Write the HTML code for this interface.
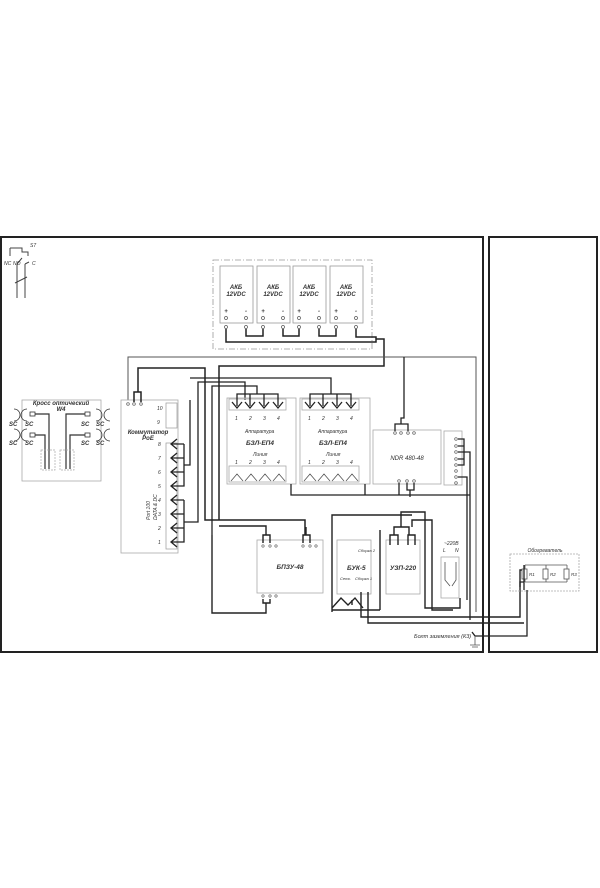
<!DOCTYPE html>
<html><head><meta charset="utf-8"><style>
html,body{margin:0;padding:0;background:#fff;width:600px;height:888px;overflow:hidden}
svg{display:block}
text{font-family:"Liberation Sans",sans-serif;font-style:italic;fill:#333}
</style></head><body>
<svg width="600" height="888" viewBox="0 0 600 888" xmlns="http://www.w3.org/2000/svg">
<g fill="none" stroke="#222" stroke-width="2">
<rect x="1" y="237" width="482" height="415"/>
<rect x="489" y="237" width="108" height="415"/>
</g>
<!-- S7 -->
<g stroke="#444" stroke-width="1" fill="none">
<path d="M10 248 L10 256 M10 248 L22 248 L22 252 L28 252 L28 256"/>
<path d="M17 264 L17 298 M25 264 L25 298 M17 264 L22 258 M25 264 L29 262"/>
<path d="M15 283 L27 277"/>
</g>
<text x="30" y="247" font-size="5">S7</text>
<text x="4" y="265" font-size="5">NC</text><text x="13" y="265" font-size="5">NO</text><text x="32" y="265" font-size="5">C</text>
<!-- battery box -->
<rect x="213" y="260" width="159" height="89" fill="none" stroke="#999" stroke-width="0.8" stroke-dasharray="6,2,1,2"/>
<g fill="none" stroke="#999" stroke-width="0.8">
<rect x="220" y="266" width="33" height="57"/><rect x="257" y="266" width="33" height="57"/>
<rect x="293" y="266" width="33" height="57"/><rect x="330" y="266" width="33" height="57"/>
</g>
<g font-size="6" text-anchor="middle" font-weight="bold">
<text x="236" y="289">АКБ</text><text x="236" y="296">12VDC</text>
<text x="273" y="289">АКБ</text><text x="273" y="296">12VDC</text>
<text x="309" y="289">АКБ</text><text x="309" y="296">12VDC</text>
<text x="346" y="289">АКБ</text><text x="346" y="296">12VDC</text>
</g>
<g font-size="6" text-anchor="middle" font-weight="bold"><text x="226" y="313">+</text><text x="246" y="313">-</text><text x="263" y="313">+</text><text x="283" y="313">-</text><text x="299" y="313">+</text><text x="319" y="313">-</text><text x="336" y="313">+</text><text x="356" y="313">-</text></g>
<g fill="none" stroke="#555" stroke-width="0.7">
<circle cx="226" cy="318" r="1.5"/><circle cx="246" cy="318" r="1.5"/><circle cx="263" cy="318" r="1.5"/><circle cx="283" cy="318" r="1.5"/>
<circle cx="299" cy="318" r="1.5"/><circle cx="319" cy="318" r="1.5"/><circle cx="336" cy="318" r="1.5"/><circle cx="356" cy="318" r="1.5"/>
<circle cx="226" cy="327" r="1.5"/><circle cx="246" cy="327" r="1.5"/><circle cx="263" cy="327" r="1.5"/><circle cx="283" cy="327" r="1.5"/>
<circle cx="299" cy="327" r="1.5"/><circle cx="319" cy="327" r="1.5"/><circle cx="336" cy="327" r="1.5"/><circle cx="356" cy="327" r="1.5"/>
</g>
<g fill="none" stroke="#222" stroke-width="1.5">
<path d="M226 329 V342 H376 V337 H356 V329"/>
<path d="M246 329 V336 H263 V329 M283 329 V336 H299 V329 M319 329 V336 H336 V329"/>
<path d="M376 339 H384 V366 H219 V520"/>
</g>
<!-- thin main frame line -->
<path d="M128 400 V357 H476 V612" fill="none" stroke="#555" stroke-width="1"/>
<!-- optical cross -->
<rect x="22" y="400" width="79" height="81" fill="none" stroke="#aaa" stroke-width="0.8"/>
<text x="61" y="405" font-size="6" text-anchor="middle" font-weight="bold">Кросс оптический</text>
<text x="61" y="411" font-size="6" text-anchor="middle" font-weight="bold">W4</text>
<g font-size="6" font-weight="bold"><text x="9" y="426">SC</text><text x="25" y="426">SC</text><text x="81" y="426">SC</text><text x="96" y="426">SC</text>
<text x="9" y="445">SC</text><text x="25" y="445">SC</text><text x="81" y="445">SC</text><text x="96" y="445">SC</text></g>
<g fill="none" stroke="#333" stroke-width="0.8">
<path d="M14 409 A6 6 0 0 1 14 421 M14 429 A6 6 0 0 1 14 441 M110 409 A6 6 0 0 0 110 421 M110 429 A6 6 0 0 0 110 441"/>
<path d="M27 409 A6 6 0 0 0 27 421 M27 429 A6 6 0 0 0 27 441 M96 409 A6 6 0 0 1 96 421 M96 429 A6 6 0 0 1 96 441"/>
<rect x="30" y="412" width="5" height="4"/><rect x="30" y="433" width="5" height="4"/><rect x="85" y="412" width="5" height="4"/><rect x="85" y="433" width="5" height="4"/>
</g>
<path d="M35 414 H49 V469 M35 435 H45 V469 M85 414 H66 V469 M85 435 H70 V469" fill="none" stroke="#333" stroke-width="1.2"/>
<rect x="41" y="450" width="14" height="20" fill="none" stroke="#aaa" stroke-dasharray="2,1" stroke-width="0.7"/>
<rect x="60" y="450" width="14" height="20" fill="none" stroke="#aaa" stroke-dasharray="2,1" stroke-width="0.7"/>
<!-- switch -->
<rect x="121" y="400" width="57" height="153" fill="none" stroke="#aaa" stroke-width="0.8"/>
<text x="148" y="434" font-size="6" text-anchor="middle" font-weight="bold">Коммутатор</text>
<text x="148" y="440" font-size="6" text-anchor="middle" font-weight="bold">PoE</text>
<text x="150" y="520" font-size="5" transform="rotate(-90 150 520)" fill="#888">Port 100</text>
<text x="157" y="520" font-size="5" transform="rotate(-90 157 520)" fill="#888">DATA &amp; DC</text>
<g fill="none" stroke="#999" stroke-width="0.7"><rect x="166" y="403" width="11" height="25"/><rect x="166" y="443" width="11" height="106"/></g>
<g font-size="5" fill="#888"><text x="157" y="410">10</text><text x="157" y="424">9</text>
<text x="158" y="446">8</text><text x="158" y="460">7</text><text x="158" y="474">6</text><text x="158" y="488">5</text>
<text x="158" y="502">4</text><text x="158" y="516">3</text><text x="158" y="530">2</text><text x="158" y="544">1</text></g>
<g fill="none" stroke="#222" stroke-width="1.3">
<path d="M177 439 L171 444 L177 449 M177 453 L171 458 L177 463 M177 467 L171 472 L177 477 M177 481 L171 486 L177 491 M177 495 L171 500 L177 505 M177 509 L171 514 L177 519 M177 523 L171 528 L177 533 M177 537 L171 542 L177 547"/>
<path d="M172 444 H184 M172 458 H184 M172 472 H184 M172 486 H184 V444 M184 465 H190 V400"/>
<path d="M172 500 H184 M172 514 H184 M172 528 H184 M172 542 H184 V500 M184 522 H198 V382 H245 V400"/>
</g>
<g fill="none" stroke="#555" stroke-width="0.7"><circle cx="128" cy="404" r="1.3"/><circle cx="134" cy="404" r="1.3"/><circle cx="141" cy="404" r="1.3"/></g>
<path d="M134 402 V392 H141 V402 M138 392 V368 H205 V520 H305 V535" fill="none" stroke="#222" stroke-width="1.5"/>
<!-- БЗЛ-ЕП4 x2 -->
<g fill="none" stroke="#aaa" stroke-width="0.8"><rect x="227" y="398" width="69" height="86"/><rect x="300" y="398" width="70" height="86"/>
<rect x="229" y="399" width="57" height="11"/><rect x="302" y="399" width="57" height="11"/>
<rect x="229" y="466" width="57" height="16"/><rect x="302" y="466" width="57" height="16"/></g>
<g fill="none" stroke="#222" stroke-width="1.3">
<path d="M232 402 L237 408 L242 402 M245 402 L250 408 L255 402 M259 402 L264 408 L269 402 M273 402 L278 408 L283 402"/>
<path d="M305 402 L310 408 L315 402 M318 402 L323 408 L328 402 M332 402 L337 408 L342 402 M346 402 L351 408 L356 402"/>
<path d="M237 406 V394 H278 V406 M250 394 V406 M264 394 V406 M257 394 V386 H212 V535"/>
<path d="M310 406 V394 H351 V406 M323 394 V406 M337 394 V406 M331 394 V378 H190"/>
</g>
<g fill="none" stroke="#555" stroke-width="0.8">
<path d="M231 481 L237 474 L243 481 M245 481 L251 474 L257 481 M259 481 L265 474 L271 481 M273 481 L279 474 L285 481"/>
<path d="M304 481 L310 474 L316 481 M318 481 L324 474 L330 481 M332 481 L338 474 L344 481 M346 481 L352 474 L358 481"/>
</g>
<g font-size="5" fill="#999"><text x="235" y="420">1</text><text x="249" y="420">2</text><text x="263" y="420">3</text><text x="277" y="420">4</text>
<text x="308" y="420">1</text><text x="322" y="420">2</text><text x="336" y="420">3</text><text x="350" y="420">4</text>
<text x="235" y="464">1</text><text x="249" y="464">2</text><text x="263" y="464">3</text><text x="277" y="464">4</text>
<text x="308" y="464">1</text><text x="322" y="464">2</text><text x="336" y="464">3</text><text x="350" y="464">4</text>
<text x="245" y="433">Аппаратура</text><text x="318" y="433">Аппаратура</text>
<text x="253" y="456">Линия</text><text x="326" y="456">Линия</text></g>
<text x="260" y="445" font-size="6.5" font-weight="bold" text-anchor="middle">БЗЛ-ЕП4</text>
<text x="333" y="445" font-size="6.5" font-weight="bold" text-anchor="middle">БЗЛ-ЕП4</text>
<path d="M291 484 V495 H470 M365 484 V495" fill="none" stroke="#222" stroke-width="1.3"/>
<!-- NDR -->
<rect x="373" y="430" width="68" height="54" fill="none" stroke="#aaa" stroke-width="0.8"/>
<text x="407" y="460" font-size="6" text-anchor="middle">NDR 480-48</text>
<rect x="444" y="431" width="18" height="54" fill="none" stroke="#aaa" stroke-width="0.8"/>
<g fill="none" stroke="#555" stroke-width="0.7">
<circle cx="395" cy="433" r="1.3"/><circle cx="401" cy="433" r="1.3"/><circle cx="408" cy="433" r="1.3"/><circle cx="414" cy="433" r="1.3"/>
<circle cx="399" cy="481" r="1.3"/><circle cx="407" cy="481" r="1.3"/><circle cx="414" cy="481" r="1.3"/>
<circle cx="456" cy="439" r="1.3"/><circle cx="456" cy="446" r="1.3"/><circle cx="456" cy="452" r="1.3"/><circle cx="456" cy="459" r="1.3"/><circle cx="456" cy="465" r="1.3"/><circle cx="456" cy="471" r="1.3"/><circle cx="456" cy="477" r="1.3"/><circle cx="456" cy="483" r="1.3"/>
</g>
<g fill="none" stroke="#222" stroke-width="1.3">
<path d="M395 431 V424 H408 V431 M401 424 V418 H404 V357"/>
<path d="M458 439 H464 V465 H458 M458 446 H464 M458 452 H464 M458 459 H464 M464 452 H470 V620"/>
<path d="M458 477 H467 V600"/>
<path d="M399 483 V495 M407 483 V490 H414 V483 M410 490 V497"/>
</g>
<!-- БПЗУ-48 -->
<rect x="257" y="540" width="66" height="53" fill="none" stroke="#aaa" stroke-width="0.8"/>
<text x="290" y="569" font-size="6.5" font-weight="bold" text-anchor="middle">БПЗУ-48</text>
<g fill="none" stroke="#222" stroke-width="1.4">
<path d="M263 543 V535 H270 V543 M266 535 V526 H219 M303 543 V535 H310 V543 M306 535 V527"/>
<path d="M263 599 V603 H270 V599 M266 603 V613 H212 V535"/>
</g>
<g fill="none" stroke="#555" stroke-width="0.6"><circle cx="263" cy="546" r="1.2"/><circle cx="270" cy="546" r="1.2"/><circle cx="276" cy="546" r="1.2"/><circle cx="303" cy="546" r="1.2"/><circle cx="310" cy="546" r="1.2"/><circle cx="316" cy="546" r="1.2"/>
<circle cx="263" cy="596" r="1.2"/><circle cx="270" cy="596" r="1.2"/><circle cx="276" cy="596" r="1.2"/></g>
<!-- БУК-5 -->
<rect x="337" y="540" width="34" height="54" fill="none" stroke="#aaa" stroke-width="0.8"/>
<text x="347" y="570" font-size="6.5" font-weight="bold">БУК-5</text>
<text x="358" y="552" font-size="4">Сборка 2</text><text x="340" y="580" font-size="4">Сеть</text><text x="355" y="580" font-size="4">Сборка 1</text>
<g fill="none" stroke="#222" stroke-width="1.4">
<path d="M332 608 L341 598 L348 605 L355 598 L363 608"/>
<path d="M332 608 V612 M332 612 V515 H412 M352 600 V605 M361 592 V617 H520 V570 H525"/>
<path d="M368 592 V623 H524"/>
</g>
<!-- УЗП-220 -->
<rect x="386" y="540" width="34" height="54" fill="none" stroke="#aaa" stroke-width="0.8"/>
<text x="403" y="570" font-size="6.5" font-weight="bold" text-anchor="middle">УЗП-220</text>
<g fill="none" stroke="#222" stroke-width="1.4">
<path d="M390 545 V535 H398 V545 M408 545 V535 H415 V545 M394 535 V527 H409 V535 M401 527 V512 H425 V608 H460 V598"/>
<path d="M412 527 V520 H432 V610 H453"/>
<path d="M380 610 V530 M380 610 H332"/>
</g>
<!-- S3 -->
<rect x="441" y="557" width="18" height="41" fill="none" stroke="#aaa" stroke-width="0.8"/>
<text x="444" y="545" font-size="5">~220В</text><text x="443" y="552" font-size="5">L</text><text x="455" y="552" font-size="5">N</text>
<path d="M445 562 V580 L450 586 M456 562 V580 L452 586" fill="none" stroke="#555" stroke-width="0.8"/>
<!-- heater -->
<rect x="510" y="554" width="69" height="37" fill="none" stroke="#aaa" stroke-width="0.8" stroke-dasharray="2,1"/>
<text x="545" y="552" font-size="5" text-anchor="middle" fill="#888">Обогреватель</text>
<g fill="none" stroke="#555" stroke-width="0.8">
<path d="M525 565 H567 M525 582 H567 M525 565 V582 M546 565 V582 M567 565 V582"/>
<rect x="522" y="569" width="5" height="10" fill="#fff"/><rect x="543" y="569" width="5" height="10" fill="#fff"/><rect x="564" y="569" width="5" height="10" fill="#fff"/>
</g>
<g font-size="4.5" fill="#888"><text x="529" y="576">R1</text><text x="550" y="576">R2</text><text x="571" y="576">R3</text></g>
<path d="M524 582 H520 V587 M524 565 V590 M527 590 V636 H475 L472 632" fill="none" stroke="#222" stroke-width="1.3"/>
<path d="M475 636 V645 M470 645 H480 M472 647 H478" fill="none" stroke="#555" stroke-width="0.8"/>
<text x="414" y="638" font-size="5.5" fill="#888">Болт заземления (К3)</text>
</svg>
</body></html>
